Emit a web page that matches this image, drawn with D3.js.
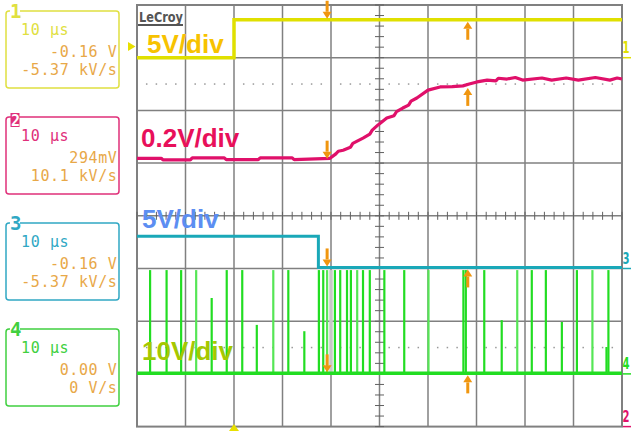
<!DOCTYPE html>
<html><head><meta charset="utf-8">
<script src="https://cdn.jsdelivr.net/npm/d3@7"></script>
<style>body{margin:0;background:#fff}svg{display:block}</style>
</head><body><svg id="c" width="631" height="431"></svg>
<script>
// ---------- data ----------
const timeDomain = [-20, 80];          // μs, 10 μs/div
const divDomain = [-4, 4];             // vertical divisions
const channelNames = ["1", "2", "3", "4"];
const voltsPerDiv = [5, 0.2, 5, 10];
const groundDiv = [3, -4, -1, -3];
const scaleLabels = ["5V/div", "0.2V/div", "5V/div", "10V/div"];
const boxTime = ["10 μs", "10 μs", "10 μs", "10 μs"];
const boxLevel = ["-0.16 V", "294mV", "-0.16 V", "0.00 V"];
const boxSlope = ["-5.37 kV/s", "10.1 kV/s", "-5.37 kV/s", "0 V/s"];
const triggerLevelV = 1.07;            // ch1 trigger level
const triggerTime = 0;
const cursorT = [19.2, 48.2];

// channel 1 (V)
const ch1T = [-20, 0, 0, 80];
const ch1V = [0, 0, 3.6, 3.6];
// channel 2 (V)
const ch2T = [-20, -15, -14.6, -9, -8.6, -2, -1.6, 5, 5.4, 12, 12.4, 19.8, 21, 21.5, 22.5, 24, 24.5, 26.6, 28, 28.5, 29.7, 31.5, 33, 33.5, 34.8, 36, 36.5, 37.7, 40.0, 42.5, 45, 47.2, 48.5, 50.1, 52.2, 54, 54.5, 56.3, 58, 59.5, 63.5, 65.5, 68.5, 71, 74.5, 77.5, 79, 80];
const ch2V = [1.018, 1.018, 1.012, 1.012, 1.02, 1.02, 1.013, 1.013, 1.02, 1.02, 1.013, 1.018, 1.035, 1.045, 1.049, 1.06, 1.075, 1.095, 1.11, 1.125, 1.145, 1.171, 1.18, 1.195, 1.209, 1.22, 1.235, 1.247, 1.277, 1.289, 1.29, 1.293, 1.3, 1.308, 1.315, 1.312, 1.322, 1.319, 1.325, 1.315, 1.323, 1.315, 1.323, 1.315, 1.325, 1.315, 1.323, 1.319];
// channel 3 (V)
const ch3T = [-20, 17.4, 17.4, 80];
const ch3V = [3.05, 3.05, 0.1, 0.1];
// channel 4 baseline and spikes (V)
const ch4Base = 0.1;
const spikeT = [-17.3, -13.9, -10.9, -7.8, -4.6, -1.5, 1.7, 4.7, 8.1, 11.2, 14.5, 17.5, 18.4, 19.2, 20.8, 21.9, 23.3, 24.1, 25.4, 26.6, 28.0, 31.0, 35.1, 40.1, 47.3, 47.8, 51.6, 55.2, 58.4, 61.4, 64.3, 67.6, 70.7, 73.9, 77.2, 76.8];
const spikeV = [19.7, 19.7, 19.7, 19.7, 14.4, 19.7, 19.7, 9.3, 19.7, 19.7, 8.1, 19.7, 19.7, 19.7, 19.7, 19.7, 19.7, 19.7, 19.7, 19.7, 19.7, 19.7, 19.7, 19.7, 19.7, 19.7, 19.7, 10.2, 19.7, 19.7, 19.7, 9.85, 19.7, 19.7, 19.7, 5.1];
const graySpikeT = [20.0];

// ---------- styles ----------
const traceCol = ["#e0e000", "#e0106a", "#1aa8b8", "#22dd22"];
const boxCol = ["#e0e040", "#e0307a", "#30a8c4", "#40d040"];
const labelCol = ["#f7c200", "#e8105a", "#5c8ef2", "#a5c800"];
const orange = "#f0960f";
const valCol = "#e8a848";
const gridCol = "#808080";

const svg = d3.select("#c");
const X = d3.scaleLinear().domain(timeDomain).range([137, 622]);
const Y = d3.scaleLinear().domain(divDomain).range([426.6, 5]);
const yc = (ch, v) => Y(groundDiv[ch] + v / voltsPerDiv[ch]);

// grid
const g = svg.append("g");
const majorT = d3.range(timeDomain[0], timeDomain[1] + 0.001, 10);
const majorD = d3.range(divDomain[0], divDomain[1] + 0.001, 1);
g.selectAll(".vx").data(majorT.slice(1, -1)).join("line")
  .attr("x1", d => X(d)).attr("x2", d => X(d)).attr("y1", Y(4)).attr("y2", Y(-4))
  .attr("stroke", gridCol).attr("stroke-width", 1.5);
g.selectAll(".hy").data(majorD.slice(1, -1)).join("line")
  .attr("y1", d => Y(d)).attr("y2", d => Y(d)).attr("x1", X(-20)).attr("x2", X(80))
  .attr("stroke", gridCol).attr("stroke-width", 1.5);
g.append("rect").attr("x", X(-20)).attr("y", Y(4)).attr("width", X(80) - X(-20)).attr("height", Y(-4) - Y(4))
  .attr("fill", "none").attr("stroke", gridCol).attr("stroke-width", 2);
// center ticks
const minorT = d3.range(timeDomain[0], timeDomain[1] + 0.001, 2);
const minorD = d3.range(-4, 4.001, 0.2);
g.selectAll(".tx").data(minorT).join("line")
  .attr("x1", d => X(d)).attr("x2", d => X(d)).attr("y1", Y(0) - 4).attr("y2", Y(0) + 4)
  .attr("stroke", "#606060").attr("stroke-width", 1);
g.selectAll(".ty").data(minorD).join("line")
  .attr("y1", d => Y(d)).attr("y2", d => Y(d)).attr("x1", X(30) - 4.5).attr("x2", X(30) + 4.5)
  .attr("stroke", "#606060").attr("stroke-width", 1);
// dotted rows
const dotT = minorT.filter(t => Math.abs(t / 10 - Math.round(t / 10)) > 0.01);
[2.5, -2.5].forEach(dv => {
  g.selectAll(null).data(dotT).join("rect")
    .attr("x", d => X(d) - 0.75).attr("y", Y(dv) - 0.75).attr("width", 1.5).attr("height", 1.5)
    .attr("fill", "#999");
});

// LeCroy logo
svg.append("text").attr("x", 139).attr("y", 22).text("LeCroy")
  .attr("font-family", "DejaVu Sans Condensed, DejaVu Sans").attr("font-weight", "bold")
  .attr("font-size", 14).attr("fill", "#555").attr("textLength", 44).attr("lengthAdjust", "spacingAndGlyphs");
svg.append("rect").attr("x", 138).attr("y", 24).attr("width", 45).attr("height", 2).attr("fill", "#555");

// traces
const line = ch => d3.line().x(d => X(d[0])).y(d => yc(ch, d[1]));
const zip = (a, b) => a.map((t, i) => [t, b[i]]);

// ch4 spikes
svg.selectAll(".gs").data(graySpikeT).join("line")
  .attr("x1", d => X(d)).attr("x2", d => X(d)).attr("y1", yc(3, 19.7)).attr("y2", yc(3, ch4Base))
  .attr("stroke", "#c8c8c8").attr("stroke-width", 3.5);
svg.selectAll(".sp").data(zip(spikeT, spikeV)).join("line")
  .attr("x1", d => X(d[0])).attr("x2", d => X(d[0])).attr("y1", d => yc(3, d[1])).attr("y2", yc(3, ch4Base))
  .attr("stroke", (d, i) => (i % 5 === 3 ? "#55e655" : traceCol[3])).attr("stroke-width", 2.2);
svg.append("path").datum(zip([timeDomain[0], timeDomain[1]], [ch4Base, ch4Base]))
  .attr("d", line(3)).attr("stroke", traceCol[3]).attr("stroke-width", 3.5).attr("fill", "none");

svg.append("path").datum(zip(ch3T, ch3V)).attr("d", line(2))
  .attr("stroke", traceCol[2]).attr("stroke-width", 3).attr("fill", "none");
svg.append("path").datum(zip(ch2T, ch2V)).attr("d", line(1))
  .attr("stroke", traceCol[1]).attr("stroke-width", 3.2).attr("fill", "none").attr("stroke-linejoin", "bevel");
svg.append("path").datum(zip(ch1T, ch1V)).attr("d", line(0))
  .attr("stroke", traceCol[0]).attr("stroke-width", 3.5).attr("fill", "none");

// scale labels
const labelPos = [[147, 53], [141, 147], [142, 228], [142, 360]];
scaleLabels.forEach((s, i) => {
  svg.append("text").attr("x", labelPos[i][0]).attr("y", labelPos[i][1]).text(s)
    .attr("font-family", "Liberation Sans, Arial, sans-serif").attr("font-weight", "bold")
    .attr("font-size", 26).attr("fill", labelCol[i]);
});

// cursor arrows
function arrow(x, tip, dir) { // dir 1 = down, -1 = up
  const s = svg.append("g").attr("fill", orange);
  const base = tip - dir * 18, head = tip - dir * 7;
  s.append("rect").attr("x", x - 1.5).attr("y", Math.min(base, head)).attr("width", 3).attr("height", Math.abs(head - base));
  s.append("path").attr("d", `M${x - 4.5},${head} L${x + 4.5},${head} L${x},${tip} Z`);
}
const lvlAt = (T, V, t) => { let v = V[0]; T.forEach((tt, i) => { if (tt <= t) v = V[i]; }); return v; };
const tr = [[ch1T, ch1V], [ch2T, ch2V], [ch3T, ch3V], [[-20], [ch4Base]]];
tr.forEach((d, ch) => {
  const y1 = yc(ch, lvlAt(d[0], d[1], cursorT[0]));
  arrow(X(cursorT[0]), y1 - 1, 1);
  const y2 = yc(ch, lvlAt(d[0], d[1], cursorT[1]));
  arrow(X(cursorT[1]), y2 + 2, -1);
});

// trigger markers
const tl = yc(0, triggerLevelV);
svg.append("path").attr("d", `M128,${tl - 4.5} L135.5,${tl} L128,${tl + 4.5} Z`).attr("fill", "#e8e000");
const tx = X(triggerTime);
svg.append("path").attr("d", `M${tx - 5},431 L${tx},424 L${tx + 5},431 Z`).attr("fill", "#e8e000");

// right ground markers
channelNames.forEach((n, i) => {
  const gy = Y(groundDiv[i]);
  svg.append("text").attr("x", 622.5).attr("y", Math.min(gy - 5, 422)).text(n)
    .attr("font-family", "DejaVu Sans Condensed, DejaVu Sans").attr("font-weight", "bold")
    .attr("font-size", 16).attr("fill", traceCol[i])
    .attr("textLength", 7).attr("lengthAdjust", "spacingAndGlyphs");
  svg.append("line").attr("x1", 623).attr("x2", 631).attr("y1", gy).attr("y2", gy)
    .attr("stroke", traceCol[i]).attr("stroke-width", 1.5);
});

// left info boxes
channelNames.forEach((n, i) => {
  const top = 11 + i * 106;
  const b = svg.append("g");
  b.append("rect").attr("x", 6).attr("y", top).attr("width", 113).attr("height", 77).attr("rx", 3)
    .attr("fill", "none").attr("stroke", boxCol[i]).attr("stroke-width", 1.5);
  if (i === 1) {
    b.append("rect").attr("x", 10.5).attr("y", top - 4).attr("width", 9).attr("height", 14).attr("fill", boxCol[i]);
    b.append("text").attr("x", 11).attr("y", top + 9).text(n).attr("font-family", "DejaVu Sans Mono")
      .attr("font-weight", "bold").attr("font-size", 15).attr("fill", "#fff");
  } else {
    b.append("rect").attr("x", 10).attr("y", top - 9).attr("width", 10).attr("height", 16).attr("fill", "#fff");
    b.append("text").attr("x", 10).attr("y", top + 7).text(n).attr("font-family", "DejaVu Sans Mono")
      .attr("font-weight", "bold").attr("font-size", 19).attr("fill", boxCol[i]);
  }
  const f = t => t.attr("font-family", "DejaVu Sans Mono").attr("font-size", 15).attr("letter-spacing", 0.6);
  f(b.append("text").attr("x", 21).attr("y", top + 24).text(boxTime[i]).attr("fill", boxCol[i]));
  f(b.append("text").attr("x", 117.5).attr("y", top + 46).attr("text-anchor", "end").text(boxLevel[i]).attr("fill", valCol));
  f(b.append("text").attr("x", 117.5).attr("y", top + 64).attr("text-anchor", "end").text(boxSlope[i]).attr("fill", valCol));
});
</script></body></html>
